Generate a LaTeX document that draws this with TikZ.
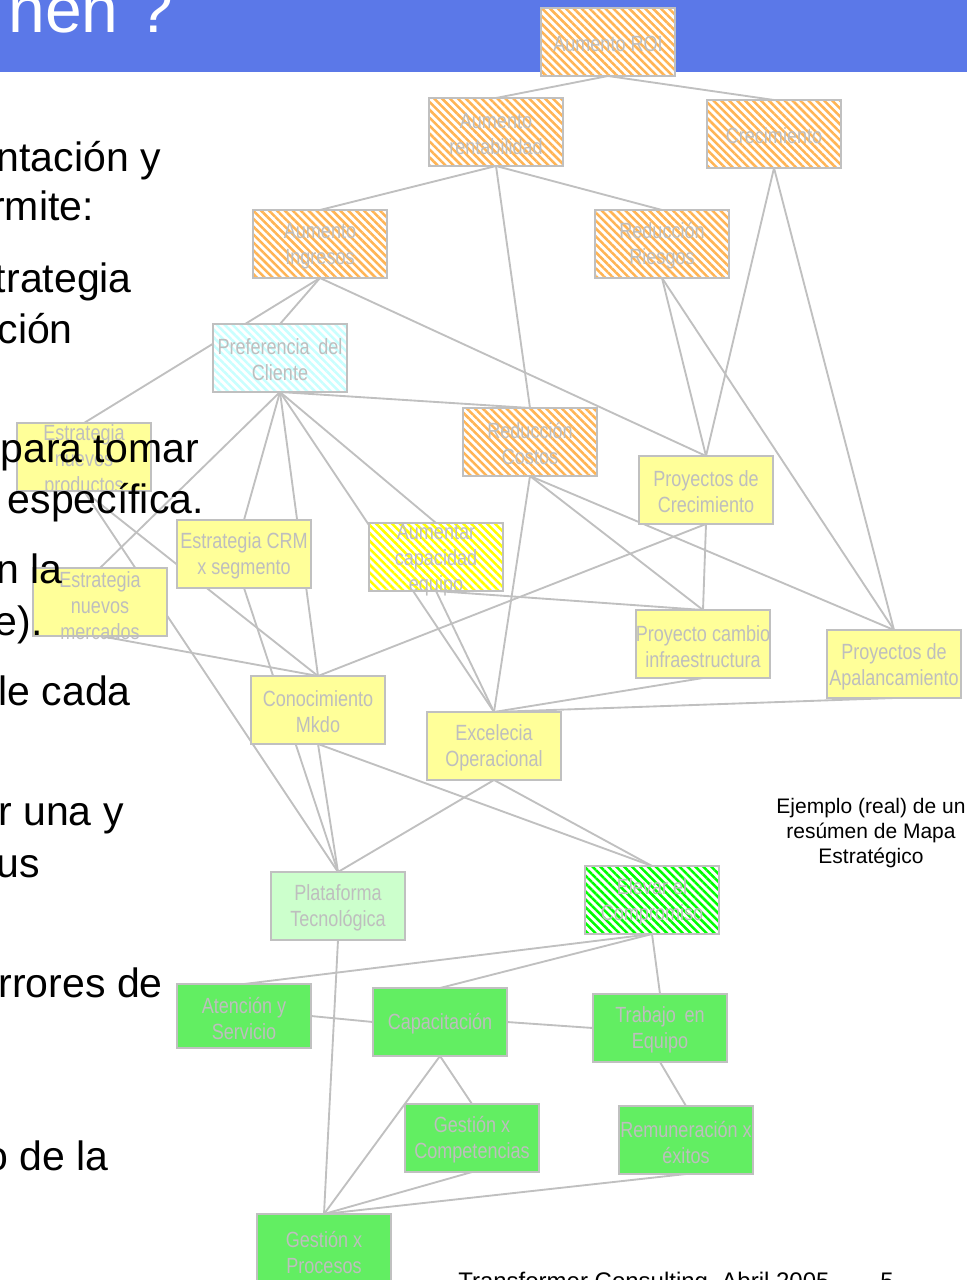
\documentclass[tikz,border=0pt]{standalone}
\usepackage{fontspec}
\setmainfont{Liberation Sans}
\newfontfamily\nar[FakeStretch=0.82]{Liberation Sans}
\usetikzlibrary{patterns.meta}
\pgfdeclarelayer{bg}
\pgfsetlayers{bg,main}
\definecolor{bord}{RGB}{192,192,192}
\definecolor{labc}{RGB}{190,190,190}
\definecolor{hor}{RGB}{255,180,84}
\definecolor{hcy}{RGB}{200,255,255}
\definecolor{hye}{RGB}{255,255,0}
\definecolor{hgr}{RGB}{0,255,0}
\definecolor{soly}{RGB}{255,255,153}
\definecolor{solg}{RGB}{204,255,204}
\definecolor{chk}{RGB}{98,238,98}
\definecolor{tblue}{RGB}{91,120,232}
\tikzset{
  box/.style={draw=bord, line width=1.8pt, minimum width=100.5pt, minimum height=51pt, inner sep=0pt, outer sep=0pt},
  hatchbox/.style={box, preaction={fill=white}, pattern={Lines[angle=-45,distance=4.2pt,line width=1.9pt]}, pattern color=#1},
  solidbox/.style={box, fill=#1},
  lab/.style={text=labc, font=\nar\fontsize{16.5pt}{19.5pt}\selectfont, align=center, inner sep=0pt, yshift=-1.5pt},
  conn/.style={draw=bord, line width=1.4pt},
  body/.style={font=\fontsize{30.75pt}{37pt}\selectfont, inner sep=0pt, anchor=base east, text=black},
  note/.style={font=\fontsize{15.75pt}{18.75pt}\selectfont, inner sep=0pt, anchor=base, text=black},
}
\begin{document}
\begin{tikzpicture}[x=0.75pt,y=-0.75pt]
\useasboundingbox (0,0) rectangle (967,1280);
\begin{pgfonlayer}{bg}
\fill[tblue] (0,0) rectangle (967,72);
\end{pgfonlayer}
\node[text=white, font=\fontsize{49.5pt}{55pt}\selectfont, inner sep=0pt, anchor=base east] (title) at (174,33) {nen ?};

% boxes
\node[hatchbox=hor] (roi) at (608,42) {};
\node[hatchbox=hor] (rent) at (496,132) {};
\node[hatchbox=hor] (crec) at (774,134) {};
\node[hatchbox=hor] (ingr) at (320,244) {};
\node[hatchbox=hor] (ries) at (662,244) {};
\node[hatchbox=hcy] (pref) at (280,358) {};
\node[hatchbox=hor] (cost) at (530,442) {};
\node[solidbox=soly] (pcre) at (706,490) {};
\node[solidbox=soly] (enp) at (84,457) {};
\node[solidbox=soly] (crm) at (244,554) {};
\node[hatchbox=hye] (aum) at (436,557) {};
\node[solidbox=soly] (enm) at (100,602) {};
\node[solidbox=soly] (pcam) at (703,644) {};
\node[solidbox=soly] (apal) at (894,664) {};
\node[solidbox=soly] (cono) at (318,710) {};
\node[solidbox=soly] (exc) at (494,746) {};
\node[solidbox=solg] (plat) at (338,906) {};
\node[hatchbox=hgr] (elev) at (652,900) {};
\node[solidbox=chk, minimum height=48pt] (aten) at (244,1016) {};
\node[solidbox=chk] (capa) at (440,1022) {};
\node[solidbox=chk] (trab) at (660,1028) {};
\node[solidbox=chk] (comp) at (472,1138) {};
\node[solidbox=chk] (remu) at (686,1140) {};
\node[solidbox=chk] (proc) at (324,1248) {};

% box texts
\node[lab] (t-roi) at (roi) {Aumento ROI};
\node[lab] (t-rent) at (rent) {Aumento\\rentabilidad};
\node[lab] (t-crec) at (crec) {Crecimiento};
\node[lab] (t-ingr) at (ingr) {Aumento\\Ingresos};
\node[lab] (t-ries) at (ries) {Reducción\\Riesgos};
\node[lab] (t-pref) at (pref) {Preferencia\, del\\Cliente};
\node[lab] (t-cost) at (cost) {Reducción\\Costos};
\node[lab] (t-pcre) at (pcre) {Proyectos de\\Crecimiento};
\node[lab] (t-enp) at (84,459) {Estrategia\\nuevos\\productos};
\node[lab] (t-crm) at (crm) {Estrategia CRM\\x segmento};
\node[lab] (t-aum) at (436,558) {Aumentar\\capacidad\\equipo};
\node[lab] (t-enm) at (100,604) {Estrategia\\nuevos\\mercados};
\node[lab] (t-pcam) at (703,645) {Proyecto cambio\\infraestructura};
\node[lab] (t-apal) at (894,665) {Proyectos de\\Apalancamiento};
\node[lab] (t-cono) at (cono) {Conocimiento\\Mkdo};
\node[lab] (t-exc) at (exc) {Excelecia\\Operacional};
\node[lab] (t-plat) at (plat) {Plataforma\\Tecnológica};
\node[lab] (t-elev) at (elev) {Elevar el\\Compromiso};
\node[lab] (t-aten) at (aten) {Atención y\\Servicio};
\node[lab] (t-capa) at (capa) {Capacitación};
\node[lab] (t-trab) at (trab) {Trabajo\, en\\Equipo};
\node[lab] (t-comp) at (comp) {Gestión x\\Competencias};
\node[lab] (t-remu) at (remu) {Remuneración x\\éxitos};
\node[lab] (t-proc) at (324,1250) {Gestión x\\Procesos};

% connectors
\begin{pgfonlayer}{bg}
\draw[conn] (roi.south) -- (rent.north);
\draw[conn] (roi.south) -- (crec.north);
\draw[conn] (rent.south) -- (ingr.north);
\draw[conn] (rent.south) -- (ries.north);
\draw[conn] (rent.south) -- (cost.north);
\draw[conn] (crec.south) -- (pcre.north);
\draw[conn] (crec.south) -- (apal.north);
\draw[conn] (ries.south) -- (pcre.north);
\draw[conn] (ries.south) -- (apal.north);
\draw[conn] (ingr.south) -- (pref.north);
\draw[conn] (ingr.south) -- (enp.north);
\draw[conn] (ingr.south) -- (pcre.north);
\draw[conn] (pref.south) -- (cost.north);
\draw[conn] (pref.south) -- (enm.north);
\draw[conn] (pref.south) -- (crm.north);
\draw[conn] (pref.south) -- (cono.north);
\draw[conn] (pref.south) -- (exc.north);
\draw[conn] (pref.south) -- (aum.north);
\draw[conn] (enp.south) -- (plat.north);
\draw[conn] (enp.south) -- (cono.north);
\draw[conn] (enm.south) -- (cono.north);
\draw[conn] (crm.south) -- (plat.north);
\draw[conn] (pcre.south) -- (cono.north);
\draw[conn] (cono.south) -- (plat.north);
\draw[conn] (cono.south) -- (elev.north);
\draw[conn] (exc.south) -- (plat.north);
\draw[conn] (exc.south) -- (elev.north);
\draw[conn] (aum.south) -- (exc.north);
\draw[conn] (aum.south) -- (pcam.north);
\draw[conn] (cost.south) -- (exc.north);
\draw[conn] (cost.south) -- (pcam.north);
\draw[conn] (cost.south) -- (apal.north);
\draw[conn] (pcre.south) -- (pcam.north);
\draw[conn] (pcam.south) -- (exc.north);
\draw[conn] (apal.south) -- (exc.north);
\draw[conn] (elev.south) -- (aten.north);
\draw[conn] (elev.south) -- (capa.north);
\draw[conn] (elev.south) -- (trab.north);
\draw[conn] (plat.south) -- (proc.north);
\draw[conn] (aten.east) -- (capa.west);
\draw[conn] (capa.east) -- (trab.west);
\draw[conn] (capa.south) -- (comp.north);
\draw[conn] (capa.south) -- (proc.north);
\draw[conn] (comp.south) -- (proc.north);
\draw[conn] (trab.south) -- (remu.north);
\draw[conn] (remu.south) -- (proc.north);
\end{pgfonlayer}

% body text (over boxes)
\node[body] (b1) at (161,172) {ntación y};
\node[body] (b2) at (94,221) {rmite:};
\node[body] (b3) at (132,292) {trategia};
\node[body] (b4) at (73,343) {ción};
\node[body] (b5) at (199,462) {para tomar};
\node[body] (b6) at (204,513) {específica.};
\node[body] (b7) at (63,583) {n la};
\node[body] (b8) at (43,635) {e).};
\node[body] (b9) at (131,705) {le cada};
\node[body] (b10) at (124,825) {r una y};
\node[body] (b11) at (40,877) {us};
\node[body] (b12) at (163,997) {rrores de};
\node[body] (b13) at (109,1170) {o de la};

% note
\node[note] (n1) at (871,813) {Ejemplo (real) de un};
\node[note] (n2) at (871,838) {resúmen de Mapa};
\node[note] (n3) at (871,863) {Estratégico};

% footer
\node[font=\fontsize{18pt}{21pt}\selectfont, inner sep=0pt, anchor=base west] (foot) at (458,1289) {Transformer Consulting, Abril 2005};
\node[font=\fontsize{18pt}{21pt}\selectfont, inner sep=0pt, anchor=base west] (pnum) at (880,1289) {5};
\end{tikzpicture}
\end{document}
